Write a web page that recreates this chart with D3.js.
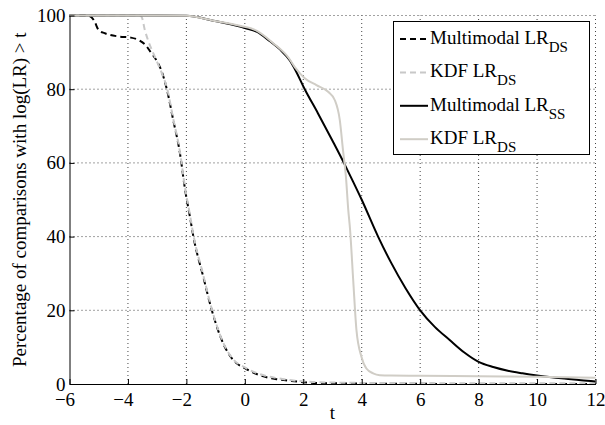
<!DOCTYPE html>
<html>
<head>
<meta charset="utf-8">
<script src="https://cdn.jsdelivr.net/npm/d3@7"></script>
<style>
  body { margin: 0; background: #fff; }
  text, tspan { font-family: 'Liberation Serif', 'Times New Roman', Times, serif !important; }
</style>
</head>
<body>
<script>
// values
var tMultiDS = [-6, -5.5, -5.3, -5.15, -5.0, -4.8, -4.6, -4.3, -3.9, -3.6, -3.4, -3.2, -3.0, -2.84, -2.67, -2.45, -2.22, -2.05, -1.88, -1.76, -1.42, -1.13, -0.74, -0.4, 0, 0.5, 1.1, 1.6, 2.2, 3, 4, 6, 8, 10, 12];
var vMultiDS = [100, 100, 99.8, 98.5, 96, 95.2, 94.7, 94.3, 94, 93.2, 92, 89.8, 87.5, 84.7, 80, 71.6, 62.6, 53, 45.4, 40, 29, 20, 11, 6.5, 4.3, 2.4, 1.3, 0.8, 0.4, 0.2, 0.1, 0.05, 0, 0, 0];

var tKdfDS = [-6, -3.6, -3.53, -3.42, -3.3, -3.13, -2.84, -2.67, -2.45, -2.22, -2.05, -1.88, -1.76, -1.42, -1.13, -0.74, -0.4, 0, 0.5, 1.1, 1.6, 2.2, 3, 4, 6, 8, 10, 12];
var vKdfDS = [100, 100, 99.6, 96, 93, 89.7, 84.3, 80.5, 72, 63, 53.5, 46, 40.5, 29.5, 20.3, 11.2, 6.7, 4.5, 2.7, 1.6, 1.0, 0.6, 0.4, 0.3, 0.25, 0.2, 0.2, 0.2];

var tMultiSS = [-6, -3, -2, -1.08, -0.17, 0, 0.4, 0.86, 1.2, 1.54, 1.71, 2.05, 2.5, 3, 3.39, 3.7, 4, 4.56, 5, 5.5, 6, 6.5, 7, 7.5, 8, 8.5, 9, 9.5, 10, 10.5, 11, 11.5, 12];
var vMultiSS = [100, 100, 99.9, 98.6, 97, 96.6, 95.6, 93, 90.8, 87.8, 85.5, 80, 73.5, 66, 60, 55, 50, 40, 33, 26, 20, 15.5, 12, 8.6, 6.0, 4.6, 3.6, 2.9, 2.3, 1.8, 1.4, 1.0, 0.7];

var tKdfSS = [-6, -3, -2, -1.08, -0.17, 0.4, 0.97, 1.5, 1.71, 2.05, 2.45, 2.85, 3.08, 3.25, 3.36, 3.46, 3.54, 3.6, 3.71, 3.82, 3.99, 4.16, 4.39, 4.62, 5, 6, 8, 10, 12];
var vKdfSS = [100, 100, 99.9, 98.6, 97.2, 95.9, 92.5, 88.5, 86, 83, 81.1, 79.3, 77, 71.6, 63.4, 56.2, 47.2, 42, 28, 14.6, 7.4, 4.2, 2.9, 2.4, 2.3, 2.25, 2.1, 1.95, 1.7];

var xTicks = [-6, -4, -2, 0, 2, 4, 6, 8, 10, 12];
var yTicks = [0, 20, 40, 60, 80, 100];

var series = [
  {name: "Multimodal LR", sub: "DS", t: tMultiDS, v: vMultiDS, color: "#000", dash: "6,4"},
  {name: "KDF LR", sub: "DS", t: tKdfDS, v: vKdfDS, color: "#c8c8c8", dash: "6,4"},
  {name: "Multimodal LR", sub: "SS", t: tMultiSS, v: vMultiSS, color: "#000", dash: null},
  {name: "KDF LR", sub: "DS", t: tKdfSS, v: vKdfSS, color: "#d0cdc6", dash: null}
];

var FONT = "'Liberation Serif', 'Times New Roman', Times, serif";
var W = 605, H = 425;
var margin = {left: 69.5, right: 9.5, top: 15.5, bottom: 41};

var svg = d3.select("body").append("svg")
  .attr("width", W)
  .attr("height", H)
  .attr("font-family", FONT);

var x = d3.scaleLinear().domain([-6, 12]).range([margin.left, W - margin.right]);
var y = d3.scaleLinear().domain([0, 100]).range([H - margin.bottom, margin.top]);

// dotted grid
var grid = svg.append("g");
grid.selectAll("line.gx").data(xTicks.slice(1)).enter().append("line")
  .attr("x1", function(d){ return x(d); }).attr("x2", function(d){ return x(d); })
  .attr("y1", y(0)).attr("y2", y(100))
  .attr("stroke", "#444").attr("stroke-width", 1).attr("stroke-dasharray", "1,3");
grid.selectAll("line.gy").data(yTicks.slice(1)).enter().append("line")
  .attr("y1", function(d){ return y(d); }).attr("y2", function(d){ return y(d); })
  .attr("x1", x(-6)).attr("x2", x(12))
  .attr("stroke", "#444").attr("stroke-width", 1).attr("stroke-dasharray", "1,3");

// lines
var line = d3.line()
  .x(function(d){ return x(d[0]); })
  .y(function(d){ return y(d[1]); })
  .curve(d3.curveMonotoneX);

series.forEach(function(s){
  var pts = s.t.map(function(t, i){ return [t, s.v[i]]; });
  svg.append("path")
    .attr("d", line(pts))
    .attr("fill", "none")
    .attr("stroke", s.color)
    .attr("stroke-width", 2)
    .attr("stroke-dasharray", s.dash);
});

// axes, ticks pointing inward
var xAxis = d3.axisBottom(x).tickValues(xTicks).tickSizeInner(-5).tickSizeOuter(0).tickPadding(9);
var yAxis = d3.axisLeft(y).tickValues(yTicks).tickSizeInner(-5).tickSizeOuter(0).tickPadding(4);

var gx = svg.append("g").attr("transform", "translate(0," + y(0) + ")").call(xAxis);
var gy = svg.append("g").attr("transform", "translate(" + x(-6) + ",0)").call(yAxis);
[gx, gy].forEach(function(g){
  g.attr("font-family", FONT).attr("font-size", 19);
  g.select(".domain").attr("stroke", "#000").attr("stroke-width", 1);
  g.selectAll(".tick line").attr("stroke", "#000");
  g.selectAll(".tick text").attr("fill", "#000");
});
// digits centred on the tick, minus sign hanging to the left
gx.selectAll(".tick text").attr("dx", function(d){ return d < 0 ? -5 : 0; });

// axis titles
svg.append("text")
  .attr("x", (x(-6) + x(12)) / 2)
  .attr("y", 419)
  .attr("text-anchor", "middle")
  .attr("font-size", 19)
  .text("t");

svg.append("text")
  .attr("transform", "translate(26," + ((y(0) + y(100)) / 2) + ") rotate(-90)")
  .attr("text-anchor", "middle")
  .attr("font-size", 19)
  .text("Percentage of comparisons with log(LR) > t");

// legend
var lg = svg.append("g");
lg.append("rect")
  .attr("x", 393.5).attr("y", 21.5)
  .attr("width", 196).attr("height", 133)
  .attr("fill", "#fff").attr("stroke", "#000").attr("stroke-width", 1);

series.forEach(function(s, i){
  var yy = 39 + i * 33.4;
  lg.append("line")
    .attr("x1", 400).attr("x2", 428)
    .attr("y1", yy).attr("y2", yy)
    .attr("stroke", s.color).attr("stroke-width", 2)
    .attr("stroke-dasharray", s.dash);
  var t = lg.append("text")
    .attr("x", 430).attr("y", yy + 5)
    .attr("font-size", 19)
    .text(s.name);
  t.append("tspan")
    .attr("dy", 8)
    .attr("font-size", 15)
    .text(s.sub);
});
</script>
</body>
</html>
